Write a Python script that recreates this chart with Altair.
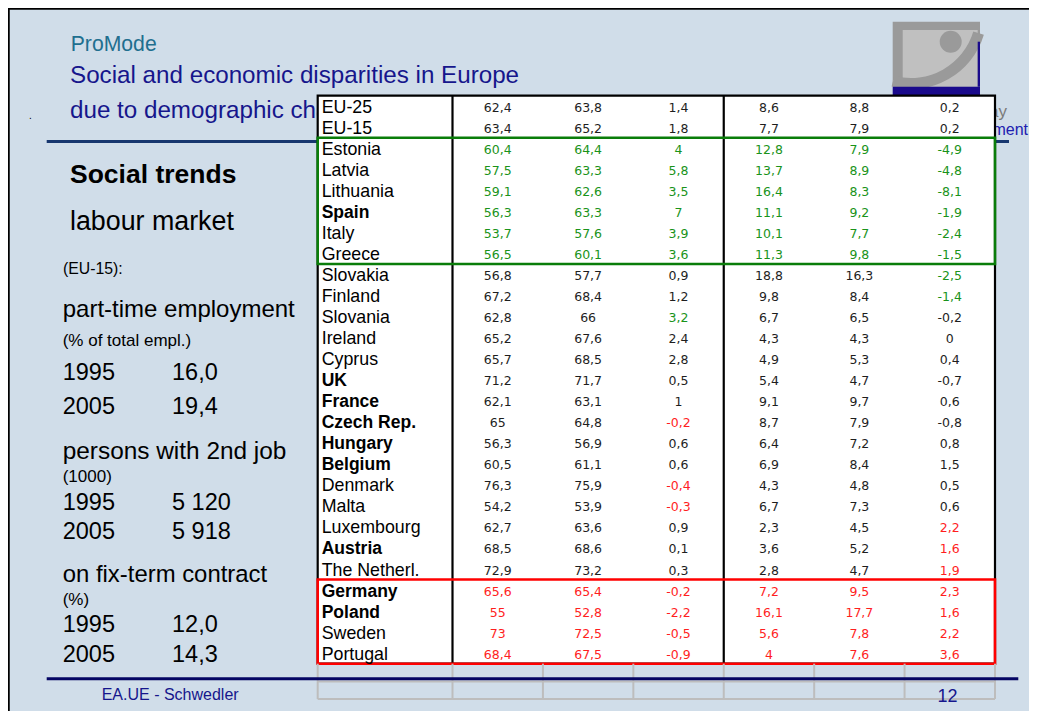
import altair as alt
import pandas as pd

# ---------------- table data ----------------
countries = ["EU-25", "EU-15", "Estonia", "Latvia", "Lithuania", "Spain", "Italy", "Greece",
             "Slovakia", "Finland", "Slovania", "Ireland", "Cyprus", "UK", "France", "Czech Rep.",
             "Hungary", "Belgium", "Denmark", "Malta", "Luxembourg", "Austria", "The Netherl.",
             "Germany", "Poland", "Sweden", "Portugal"]
bold_countries = ["Spain", "UK", "France", "Czech Rep.", "Hungary", "Belgium", "Austria",
                  "Germany", "Poland"]
col1 = [62.4, 63.4, 60.4, 57.5, 59.1, 56.3, 53.7, 56.5, 56.8, 67.2, 62.8, 65.2, 65.7, 71.2,
        62.1, 65, 56.3, 60.5, 76.3, 54.2, 62.7, 68.5, 72.9, 65.6, 55, 73, 68.4]
col2 = [63.8, 65.2, 64.4, 63.3, 62.6, 63.3, 57.6, 60.1, 57.7, 68.4, 66, 67.6, 68.5, 71.7,
        63.1, 64.8, 56.9, 61.1, 75.9, 53.9, 63.6, 68.6, 73.2, 65.4, 52.8, 72.5, 67.5]
col3 = [1.4, 1.8, 4, 5.8, 3.5, 7, 3.9, 3.6, 0.9, 1.2, 3.2, 2.4, 2.8, 0.5, 1, -0.2, 0.6, 0.6,
        -0.4, -0.3, 0.9, 0.1, 0.3, -0.2, -2.2, -0.5, -0.9]
col4 = [8.6, 7.7, 12.8, 13.7, 16.4, 11.1, 10.1, 11.3, 18.8, 9.8, 6.7, 4.3, 4.9, 5.4, 9.1, 8.7,
        6.4, 6.9, 4.3, 6.7, 2.3, 3.6, 2.8, 7.2, 16.1, 5.6, 4]
col5 = [8.8, 7.9, 7.9, 8.9, 8.3, 9.2, 7.7, 9.8, 16.3, 8.4, 6.5, 4.3, 5.3, 4.7, 9.7, 7.9, 7.2,
        8.4, 4.8, 7.3, 4.5, 5.2, 4.7, 9.5, 17.7, 7.8, 7.6]
col6 = [0.2, 0.2, -4.9, -4.8, -8.1, -1.9, -2.4, -1.5, -2.5, -1.4, -0.2, 0, 0.4, -0.7, 0.6,
        -0.8, 0.8, 1.5, 0.5, 0.6, 2.2, 1.6, 1.9, 2.3, 1.6, 2.2, 3.6]
green_group = ["Estonia", "Latvia", "Lithuania", "Spain", "Italy", "Greece"]
red_group = ["Germany", "Poland", "Sweden", "Portugal"]
green_cells = [("Slovakia", 6), ("Finland", 6), ("Slovania", 3)]
red_cells = [("Czech Rep.", 3), ("Denmark", 3), ("Malta", 3), ("Luxembourg", 6),
             ("Austria", 6), ("The Netherl.", 6)]

# ---------------- slide texts ----------------
slide_header = "ProMode"
slide_title = ["Social and economic disparities in Europe", "due to demographic change"]
hidden_right = ["Working Day", "Employment"]
section_title = "Social trends"
section_sub = "labour market"
scope_label = "(EU-15):"
indicators = ["part-time employment", "persons with 2nd job", "on fix-term contract"]
indicator_units = ["(% of total  empl.)", "(1000)", "(%)"]
years = ["1995", "2005"]
indicator_values = [["16,0", "19,4"], ["5 120", "5 918"], ["12,0", "14,3"]]
footer_author = "EA.UE - Schwedler"
page_number = "12"

# ---------------- build table frames ----------------
cols = [col1, col2, col3, col4, col5, col6]
n_rows = len(countries)
n_cols = len(cols)


def fmt(v):
    return f"{v:g}".replace(".", ",")


num_rows = []
for r, name in enumerate(countries):
    for k, col in enumerate(cols):
        c = k + 1
        hl = "k"
        if name in green_group or (name, c) in green_cells:
            hl = "g"
        if name in red_group or (name, c) in red_cells:
            hl = "r"
        num_rows.append({"xc": 1.5 + k, "yc": r + 0.5, "label": fmt(col[r]), "hl": hl})
num_df = pd.DataFrame(num_rows)

name_df = pd.DataFrame({
    "xn": [0] * n_rows,
    "yc": [r + 0.5 for r in range(n_rows)],
    "label": countries,
    "bold": [c in bold_countries for c in countries],
})

frame_df = pd.DataFrame([{"x0": 0, "x1": n_cols + 1, "y0": 0, "y1": n_rows}])
div_df = pd.DataFrame({"xv": [1, 4], "y0": [0, 0], "y1": [n_rows, n_rows]})
g0 = countries.index(green_group[0]); g1 = countries.index(green_group[-1]) + 1
r0 = countries.index(red_group[0]); r1 = countries.index(red_group[-1]) + 1
green_df = pd.DataFrame([{"x0": 0, "x1": n_cols + 1, "y0": g0, "y1": g1}])
red_df = pd.DataFrame([{"x0": 0, "x1": n_cols + 1, "y0": r0, "y1": r1}])
gray_v_df = pd.DataFrame({"xv": list(range(n_cols + 2)),
                          "y0": [n_rows] * (n_cols + 2), "y1": [n_rows + 1.68] * (n_cols + 2)})
gray_h_df = pd.DataFrame({"x0": [0, 0], "x1": [n_cols + 1] * 2,
                          "yh": [n_rows + 0.85, n_rows + 1.68]})

# ---------------- styling ----------------
W, H = 1021, 703
FONT = "Liberation Sans, Arial, Helvetica, sans-serif"
NUMFONT = "DejaVu Sans, Verdana, sans-serif"
BG = "#d0dde9"
NAVY = "#16168c"
xs = alt.Scale(domain=[0, 1, n_cols + 1], range=[309.7, 444.5, 987], zero=False, nice=False)
ys = alt.Scale(domain=[0, n_rows], range=[87.7, 655.7], zero=False, nice=False)
one = alt.Data(values=[{"k": 1}])


def txt(s, x, y, size, color="#000000", weight="normal", align="left"):
    return alt.Chart(one).mark_text(
        text=s, align=align, baseline="alphabetic", font=FONT, fontSize=size,
        fontWeight=weight, color=color
    ).encode(x=alt.value(x), y=alt.value(y))


def hline(x1, x2, y, color, w):
    return alt.Chart(one).mark_rule(color=color, strokeWidth=w).encode(
        x=alt.value(x1), x2=alt.value(x2), y=alt.value(y))


def vline(x, y1, y2, color, w):
    return alt.Chart(one).mark_rule(color=color, strokeWidth=w).encode(
        x=alt.value(x), y=alt.value(y1), y2=alt.value(y2))


def box(x1, x2, y1, y2, fill):
    return alt.Chart(one).mark_rect(color=fill, opacity=1).encode(
        x=alt.value(x1), x2=alt.value(x2), y=alt.value(y1), y2=alt.value(y2))


layers = []
# slide border
layers += [hline(0, W, 0.5, "#000000", 2.5), vline(0.5, 0, H, "#000000", 2.5)]
# header texts
layers += [
    txt(slide_header, 62.7, 42.7, 21.2, "#1f6f8f"),
    txt(slide_title[0], 62, 75.3, 24.2, NAVY),
    txt(slide_title[1], 62, 110.3, 24.2, NAVY),
    txt(hidden_right[0], 999, 108.7, 17, "#7a7a7a", align="right"),
    txt(hidden_right[1], 1020, 127, 16, "#2020b0", align="right"),
    txt(".", 21, 111, 10, "#000000"),
    hline(38.7, 1001, 133.5, "#17376f", 3),
]
# logo
layers += [
    box(884.7, 972, 13.7, 78.7, "#9a9a9a"),
    box(894.7, 969.7, 22, 78.7, "#c0c0c0"),
    box(884.7, 894.7, 72, 78.7, "#c0c0c0"),
    alt.Chart(one).mark_arc(theta=1.86, theta2=3.40, radius=76, radius2=65,
                            color="#9a9a9a").encode(x=alt.value(903), y=alt.value(5)),
    alt.Chart(one).mark_circle(size=484, color="#9a9a9a", opacity=1).encode(
        x=alt.value(942.7), y=alt.value(33.7)),
    box(969.7, 972, 33.7, 78.7, "#1a0a8c"),
    box(884.7, 972, 78.7, 87, "#1a0a8c"),
]
# left column texts
layers += [
    txt(section_title, 62, 174.7, 26.5, "#000000", weight="bold"),
    txt(section_sub, 62, 222, 26.8),
    txt(scope_label, 55, 266, 15.8),
]
ind_y = [309.3, 451, 573.7]
ind_size = [24, 24.4, 23.9]
unit_y = [338, 473.7, 597]
year_y = [[372, 406], [502, 530.7], [624.3, 654.3]]
for i in range(3):
    layers.append(txt(indicators[i], 54.7, ind_y[i], ind_size[i]))
    layers.append(txt(indicator_units[i], 54.7, unit_y[i], 17))
    for j in range(2):
        layers.append(txt(years[j], 54.7, year_y[i][j], 23.5))
        layers.append(txt(indicator_values[i][j], 164, year_y[i][j], 23.5))

# table
X = lambda f: alt.X(f, scale=xs, axis=None)
Y = lambda f: alt.Y(f, scale=ys, axis=None)
layers.append(alt.Chart(frame_df).mark_rect(fill="white", stroke="#000000", strokeWidth=2.2)
              .encode(x=X("x0:Q"), x2="x1:Q", y=Y("y0:Q"), y2="y1:Q"))
layers.append(alt.Chart(div_df).mark_rule(color="#000000", strokeWidth=2.2)
              .encode(x=X("xv:Q"), y=Y("y0:Q"), y2="y1:Q"))
layers.append(alt.Chart(green_df).mark_rect(fillOpacity=0, stroke="#0a7d0a", strokeWidth=2.6)
              .encode(x=X("x0:Q"), x2="x1:Q", y=Y("y0:Q"), y2="y1:Q"))
layers.append(alt.Chart(red_df).mark_rect(fillOpacity=0, stroke="#ff0000", strokeWidth=2.6)
              .encode(x=X("x0:Q"), x2="x1:Q", y=Y("y0:Q"), y2="y1:Q"))
layers.append(alt.Chart(gray_v_df).mark_rule(color="#bdbdbd", strokeWidth=2)
              .encode(x=X("xv:Q"), y=Y("y0:Q"), y2="y1:Q"))
layers.append(alt.Chart(gray_h_df).mark_rule(color="#bdbdbd", strokeWidth=2)
              .encode(x=X("x0:Q"), x2="x1:Q", y=Y("yh:Q")))
layers.append(alt.Chart(name_df).transform_filter("!datum.bold")
              .mark_text(align="left", baseline="alphabetic", dx=4, dy=6.5, font=FONT,
                         fontSize=17.8, color="#000000")
              .encode(x=X("xn:Q"), y=Y("yc:Q"), text="label:N"))
layers.append(alt.Chart(name_df).transform_filter("datum.bold")
              .mark_text(align="left", baseline="alphabetic", dx=4, dy=6.5, font=FONT,
                         fontSize=17.5, fontWeight="bold", color="#000000")
              .encode(x=X("xn:Q"), y=Y("yc:Q"), text="label:N"))
layers.append(alt.Chart(num_df)
              .mark_text(align="center", baseline="alphabetic", dy=5.5, font=NUMFONT,
                         fontSize=12.5)
              .encode(x=X("xc:Q"), y=Y("yc:Q"), text="label:N",
                      color=alt.Color("hl:N", legend=None,
                                      scale=alt.Scale(domain=["k", "g", "r"],
                                                      range=["#1e1e1e", "#1a931a", "#ff1e1e"]))))
# footer
layers += [
    hline(38.7, 1010.3, 670.7, "#050563", 3),
    txt(footer_author, 93.7, 692, 16, NAVY),
    txt(page_number, 939.5, 694, 18, NAVY, align="center"),
]

chart = alt.layer(*layers).properties(
    width=W, height=H, padding=0,
    autosize=alt.AutoSizeParams(type="none"),
    background=BG,
).configure_view(stroke=None)

chart.save("out.html", embed_options={"renderer": "svg", "actions": False})
